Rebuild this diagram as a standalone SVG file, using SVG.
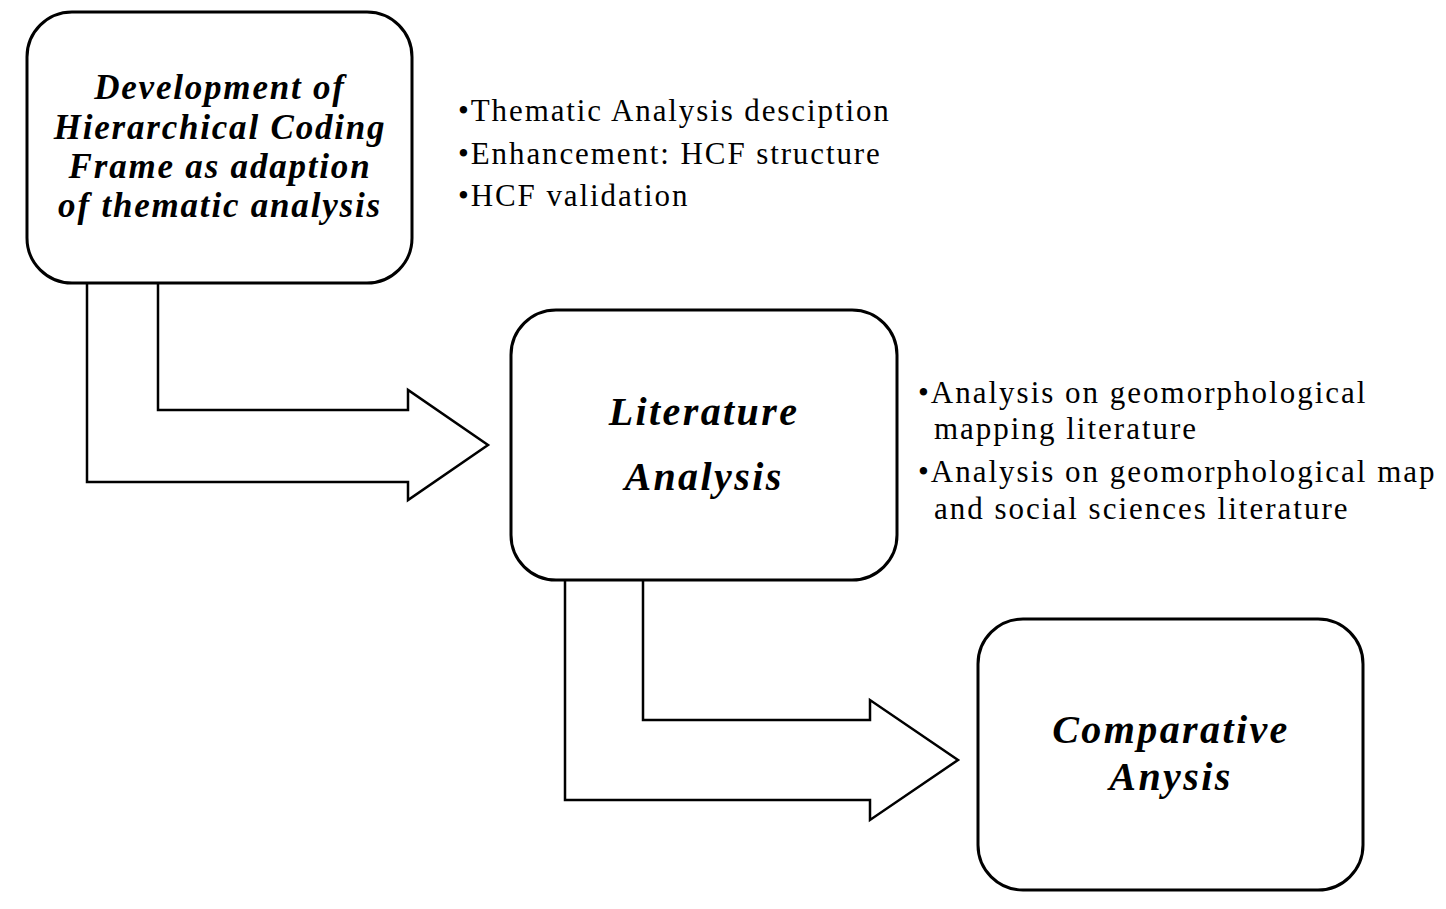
<svg xmlns="http://www.w3.org/2000/svg" width="1446" height="909" viewBox="0 0 1446 909">
<style>
.box{fill:#fff;stroke:#000;stroke-width:3}
.arr{fill:#fff;stroke:#000;stroke-width:2.5}
.t{font-family:"Liberation Serif",serif;font-weight:bold;font-style:italic;text-anchor:middle}
.b{font-family:"Liberation Serif",serif;font-size:31px;letter-spacing:1.9px}
</style>
<rect width="1446" height="909" fill="#fff"/>
<g id="connectors">
<path class="arr" d="M87,283 V482 H408 V500 L488,445 L408,390 V410 H158 V283"/>
<path class="arr" d="M565,580 V800 H870 V820 L958,760 L870,700 V720 H643 V580"/>
</g>
<g id="node1">
<rect class="box" x="27" y="12" width="385" height="271" rx="45"/>
<text class="t" font-size="35" letter-spacing="1.8" x="220"><tspan x="220" y="99">Development of</tspan><tspan x="220" y="139">Hierarchical Coding</tspan><tspan x="220" y="178">Frame as adaption</tspan><tspan x="220" y="217">of thematic analysis</tspan></text>
</g>
<g id="notes1" class="b">
<text x="458" y="121">•Thematic Analysis desciption</text>
<text x="458" y="164">•Enhancement: HCF structure</text>
<text x="458" y="206">•HCF validation</text>
</g>
<g id="node2">
<rect class="box" x="511" y="310" width="386" height="270" rx="45"/>
<text class="t" font-size="40" letter-spacing="2.4" x="704" y="425">Literature</text>
<text class="t" font-size="40" letter-spacing="2.4" x="704" y="490">Analysis</text>
</g>
<g id="notes2" class="b">
<text x="918" y="403" letter-spacing="2">•Analysis on geomorphological</text>
<text x="934" y="439" letter-spacing="2">mapping literature</text>
<text x="918" y="482" letter-spacing="2">•Analysis on geomorphological map</text>
<text x="934" y="519" letter-spacing="2">and social sciences literature</text>
</g>
<g id="node3">
<rect class="box" x="978" y="619" width="385" height="271" rx="45"/>
<text class="t" font-size="40" letter-spacing="2.4" x="1171" y="743">Comparative</text>
<text class="t" font-size="40" letter-spacing="2.4" x="1171" y="790">Anysis</text>
</g>
</svg>
